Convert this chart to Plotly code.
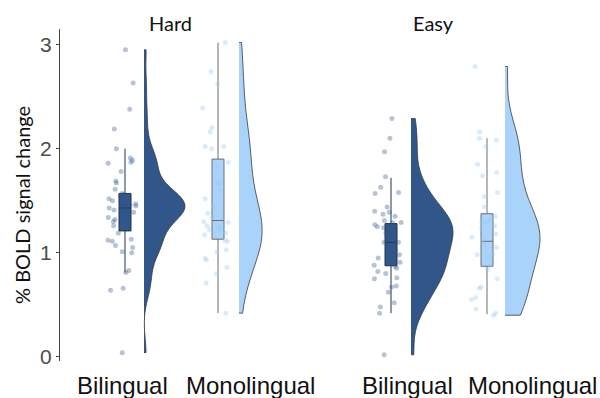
import numpy as np
import plotly.graph_objects as go

# ---- data: % BOLD signal change per participant ----
panels = ["Hard", "Easy"]
groups = ["Bilingual", "Monolingual"]

hard_bilingual = [2.95, 2.63, 2.38, 2.19, 2.00, 1.89, 1.86, 1.87, 1.91, 1.78, 1.67, 1.69,
                  1.61, 1.55, 1.57, 1.56, 1.45, 1.46, 1.44, 1.47, 1.41, 1.50, 1.48, 1.43,
                  1.52, 1.49, 1.42, 1.39, 1.36, 1.53, 1.40, 1.32, 1.34, 1.30, 1.37, 1.26,
                  1.19, 1.12, 1.13, 1.11, 1.07, 1.05, 1.01, 1.00, 0.81, 0.83, 0.64, 0.66, 0.04]
hard_monolingual = [3.02, 2.74, 2.62, 2.39, 2.20, 2.16, 2.02, 2.02, 2.00, 1.87, 1.83, 1.68,
                    1.66, 1.60, 1.52, 1.44, 1.38, 1.34, 1.30, 1.29, 1.26, 1.25, 1.22, 1.19,
                    1.22, 1.17, 1.12, 1.11, 1.03, 1.01, 0.95, 0.93, 0.86, 0.80, 0.71, 0.42]
easy_bilingual = [2.29, 2.10, 1.97, 1.73, 1.63, 1.57, 1.58, 1.44, 1.39, 1.37, 1.35, 1.40,
                  1.31, 1.27, 1.25, 1.29, 1.29, 1.19, 1.15, 1.10, 1.24, 1.17, 1.12, 1.10,
                  1.07, 1.03, 0.98, 0.95, 0.91, 0.88, 0.87, 0.85, 0.82, 0.80, 0.76, 0.75,
                  0.67, 0.68, 0.62, 0.52, 0.48, 0.42, 0.02]
easy_monolingual = [2.79, 2.16, 2.08, 2.02, 2.10, 1.85, 1.77, 1.74, 1.58, 1.54, 1.44, 1.35,
                    1.32, 1.29, 1.29, 1.26, 1.23, 1.18, 1.15, 1.12, 1.08, 1.05, 0.98, 0.99,
                    0.95, 0.88, 0.84, 0.75, 0.66, 0.67, 0.57, 0.55, 0.46, 0.42, 0.40]

# box summaries: lower whisker, Q1, median, Q3, upper whisker
box_lower = [0.81, 0.42, 0.42, 0.41]
box_q1 = [1.21, 1.13, 0.875, 0.87]
box_median = [1.43, 1.31, 1.10, 1.11]
box_q3 = [1.57, 1.90, 1.28, 1.375]
box_upper = [2.00, 3.02, 1.72, 2.10]

series = [hard_bilingual, hard_monolingual, easy_bilingual, easy_monolingual]

# ---- layout helpers (x axis runs in page pixels) ----
PLOT_TOP, PLOT_H = 29, 332
box_pos = [125, 218, 391, 487]
violin_pos = [144, 239, 411, 505]
violin_width = [41, 23, 42, 35]
label_pos = [122, 250, 407, 532]
title_pos = [170, 433]
fills = ["#31578a", "#a9d3fb", "#31578a", "#a9d3fb"]
box_lines = ["#1e3350", "#6e6e6e", "#1e3350", "#6e6e6e"]
point_cols = ["rgba(49,87,138,0.35)", "rgba(150,200,245,0.35)",
              "rgba(49,87,138,0.35)", "rgba(150,200,245,0.35)"]


def py(pixel_y):
    """Page pixel row -> paper y coordinate."""
    return (PLOT_TOP + PLOT_H - pixel_y) / PLOT_H


rng = np.random.default_rng(7)
fig = go.Figure()

for i, vals in enumerate(series):
    v = np.asarray(vals)
    # half violin (density, trimmed to the data range)
    sd = v.std(ddof=1)
    iqr = np.subtract(*np.percentile(v, [75, 25]))
    bw = 0.9 * min(sd, iqr / 1.34) * len(v) ** -0.2
    fig.add_trace(go.Violin(
        y=v, x0=violin_pos[i], side="positive", width=violin_width[i] * 2,
        scalemode="width", spanmode="hard", bandwidth=bw, points=False,
        fillcolor=fills[i], line=dict(color="#3a3a3a", width=0.8), opacity=1,
        box_visible=False, meanline_visible=False, hoverinfo="skip"))
    # jittered raw points
    jit = rng.uniform(-14, 14, len(v))
    fig.add_trace(go.Scatter(
        x=box_pos[i] - 3 + jit, y=v, mode="markers",
        marker=dict(size=5, color=point_cols[i], line=dict(width=0)),
        hoverinfo="skip"))
    # boxplot
    fig.add_trace(go.Box(
        x=[box_pos[i]], lowerfence=[box_lower[i]], q1=[box_q1[i]],
        median=[box_median[i]], q3=[box_q3[i]], upperfence=[box_upper[i]],
        width=12, whiskerwidth=0, fillcolor=fills[i],
        line=dict(color=box_lines[i], width=1), boxpoints=False, hoverinfo="skip"))

annotations = []
for p, t in zip(title_pos, panels):
    annotations.append(dict(x=p, y=py(23), xref="x", yref="paper", text=t,
                            xanchor="center", yanchor="middle", showarrow=False,
                            font=dict(family="Lato", size=20, color="#111")))
for p, t in zip(label_pos, groups * 2):
    annotations.append(dict(x=p, y=py(385), xref="x", yref="paper", text=t,
                            xanchor="center", yanchor="middle", showarrow=False,
                            font=dict(family="Liberation Sans", size=24, color="#111")))
annotations.append(dict(x=(22 - 60) / 540, y=py(205), xref="paper", yref="paper",
                        text="% BOLD signal change", textangle=-90, showarrow=False,
                        xanchor="center", yanchor="middle",
                        font=dict(family="Lato", size=20, color="#111")))

fig.update_layout(
    width=600, height=398, margin=dict(l=60, r=0, t=29, b=37),
    paper_bgcolor="white", plot_bgcolor="white", showlegend=False,
    annotations=annotations,
    xaxis=dict(range=[60, 600], visible=False),
    yaxis=dict(range=[-0.04, 3.15], tickvals=[0, 1, 2, 3], showgrid=False, zeroline=False,
               showline=True, linecolor="#444", linewidth=1, ticks="outside", ticklen=3,
               tickcolor="#444", tickfont=dict(family="Liberation Sans", size=21, color="#4d4d4d")),
)

fig.write_html("out.html")
